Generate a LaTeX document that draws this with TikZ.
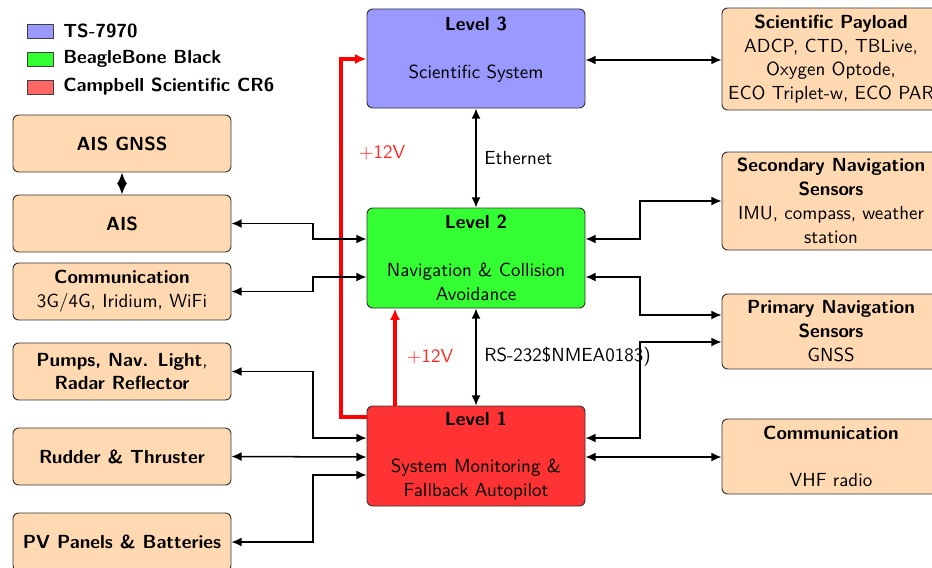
\documentclass[tikz,border=0pt]{standalone}
\usetikzlibrary{arrows.meta,fit}
\begin{document}
\begin{tikzpicture}[x=0.5274pt,y=-0.5274pt,
  font=\sffamily\fontsize{10}{12.6}\selectfont,
  >={Latex[length=5.3pt,width=4.7pt]},
  obox/.style={draw=black!80, line width=0.5pt, fill=orange!30, rounded corners=3pt, inner sep=0pt},
  lvl/.style={draw=black!80, line width=0.5pt, rounded corners=3pt, inner sep=0pt},
  txt/.style={align=center, inner sep=0pt},
  conn/.style={<->, line width=0.8pt},
  pwr/.style={->, red, line width=1.6pt, >={Latex[length=6pt,width=5.3pt]}},
  pwrlbl/.style={red!85!white, font=\sffamily\fontsize{10}{12}\selectfont},
  legsw/.style={draw=black!75, line width=0.5pt, minimum width=14.2pt, minimum height=7.4pt, inner sep=0pt},
  legtxt/.style={anchor=west, inner sep=1pt, font=\sffamily\bfseries\fontsize{10}{12}\selectfont}
]
\useasboundingbox (0,0) rectangle (932,567);

% legend
\node[legsw, fill=blue!40] (lg1) at (40.5,31) {};
\node[legtxt] (lt1) at (61,31) {TS-7970};
\node[legsw, fill=green!80] (lg2) at (40.5,59) {};
\node[legtxt] (lt2) at (61,59) {BeagleBone Black};
\node[legsw, fill=red!60] (lg3) at (40.5,87) {};
\node[legtxt] (lt3) at (61,87) {Campbell Scientific CR6};

% left boxes
\node[obox, fit={(13,115) (231,172)}] (aisg) {};
\node[txt] (aisgt) at (aisg.center) {\textbf{AIS GNSS}};
\node[obox, fit={(13,195) (231,252)}] (ais) {};
\node[txt] (aist) at (ais.center) {\textbf{AIS}};
\node[obox, fit={(13,263) (231,320)}] (comm1) {};
\node[txt] (comm1t) at (comm1.center) {\textbf{Communication}\\3G/4G, Iridium, WiFi};
\node[obox, fit={(13,343) (231,400)}] (pumps) {};
\node[txt] (pumpst) at (pumps.center) {\textbf{Pumps, Nav. Light},\\\textbf{Radar Reflector}};
\node[obox, fit={(13,428) (231,485)}] (rud) {};
\node[txt] (rudt) at (rud.center) {\textbf{Rudder \& Thruster}};
\node[obox, fit={(13,513) (231,571)}] (pv) {};
\node[txt] (pvt) at (122,542) {\textbf{PV Panels \& Batteries}};

% level boxes
\node[lvl, fill=blue!40, fit={(367,9) (585,108)}] (l3) {};
\node[txt] (l3t) at ([yshift=4.6pt]l3.center) {\textbf{Level 3}\\[12.6pt]Scientific System};
\node[lvl, fill=green!80, fit={(367,208) (585,308)}] (l2) {};
\node[txt] (l2t) at (l2.center) {\textbf{Level 2}\\[12.6pt]Navigation \& Collision\\Avoidance};
\node[lvl, fill=red!80, fit={(367,406) (585,506)}] (l1) {};
\node[txt] (l1t) at (l1.center) {\textbf{Level 1}\\[12.6pt]System Monitoring \&\\Fallback Autopilot};

% right boxes
\node[obox, fit={(722,8) (940,110)}] (sp) {};
\node[txt] (spt) at (sp.center) {\textbf{Scientific Payload}\\ADCP, CTD, TBLive,\\Oxygen Optode,\\ECO Triplet-w, ECO PAR};
\node[obox, fit={(722,152) (940,250)}] (sn) {};
\node[txt] (snt) at (sn.center) {\textbf{Secondary Navigation}\\\textbf{Sensors}\\IMU, compass, weather\\station};
\node[obox, fit={(722,294) (940,369)}] (pn) {};
\node[txt] (pnt) at (pn.center) {\textbf{Primary Navigation}\\\textbf{Sensors}\\GNSS};
\node[obox, fit={(722,419) (940,494)}] (c2) {};
\node[txt] (c2t) at (c2.center) {\textbf{Communication}\\[12.6pt]VHF radio};

% power lines
\draw[pwr] (l1.west |- 0,417) -| (341,59) -- (l3.west |- 0,59);
\draw[pwr] (395,0 |- l1.north) -- (395,0 |- l2.south);
\node[pwrlbl] (v1) at (382,153) {$+$12V};
\node[pwrlbl] (v2) at (430,357) {$+$12V};

% vertical data links
\draw[conn] (l3.south) -- (l2.north) node[midway, right, inner sep=4pt] (eth) {Ethernet};
\draw[conn] (l2.south) -- (l1.north) node[midway, right, inner sep=4pt] (rs) {RS-232\$NMEA0183)};
\draw[conn, >={Latex[length=6.1pt,width=5.3pt]}] (aisg.south) -- (ais.north);

% left connectors
\draw[conn] (ais.east) -| (313,239) -- (l2.west |- 0,239);
\draw[conn] (comm1.east) -| (313,277) -- (l2.west |- 0,277);
\draw[conn] (pumps.east) -| (313,438) -- (l1.west |- 0,438);
\draw[conn] (rud.east) -- (l1.west |- 0,457);
\draw[conn] (pv.east |- 0,542) -| (313,475) -- (l1.west |- 0,475);

% right connectors
\draw[conn] (l3.east |- 0,60) -- (sp.west |- 0,60);
\draw[conn] (l2.east |- 0,239) -| (640,201) -- (sn.west |- 0,201);
\draw[conn] (l2.east |- 0,277) -| (640,315) -- (pn.west |- 0,315);
\draw[conn] (l1.east |- 0,438) -| (640,342) -- (pn.west |- 0,342);
\draw[conn] (l1.east |- 0,457) -- (c2.west |- 0,457);
\end{tikzpicture}
\end{document}
